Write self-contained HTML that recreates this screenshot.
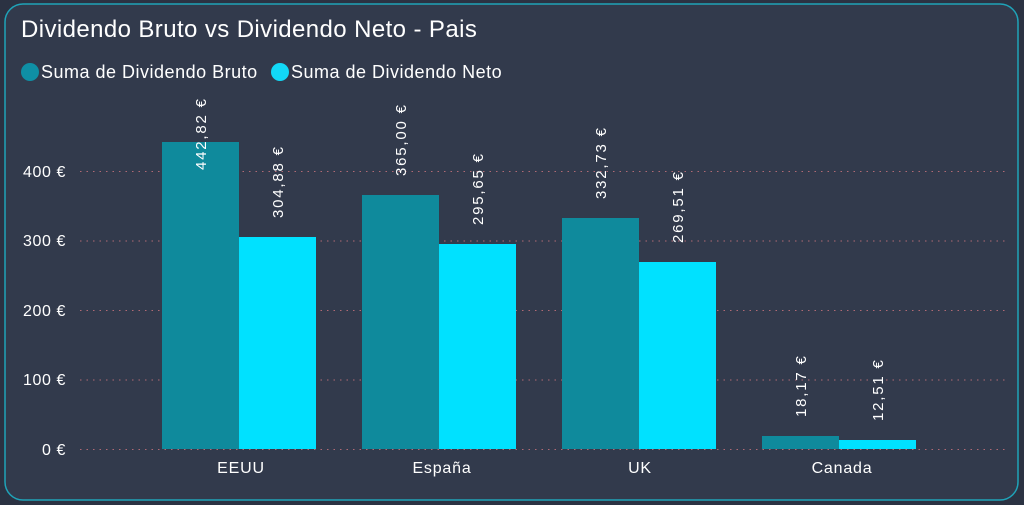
<!DOCTYPE html>
<html><head><meta charset="utf-8"><style>
html,body{margin:0;padding:0;background:#323a4c;}
svg{display:block;font-family:"Liberation Sans",Arial,sans-serif;}
</style></head><body>
<svg width="1024" height="505" viewBox="0 0 1024 505">
<rect x="0" y="0" width="1024" height="505" fill="#2b3242"/>
<rect x="5" y="4" width="1013" height="496" rx="18" fill="#323a4c" stroke="#1fa3b8" stroke-width="1.5"/>
<text x="21" y="37" font-size="24" letter-spacing="0.4" fill="#fff">Dividendo Bruto vs Dividendo Neto - Pais</text>
<circle cx="30" cy="72" r="9" fill="#0f8fa5"/>
<text x="41" y="78" font-size="18" letter-spacing="0.5" fill="#fff">Suma de Dividendo Bruto</text>
<circle cx="280" cy="72" r="9" fill="#12d8f7"/>
<text x="291" y="78" font-size="18" letter-spacing="0.5" fill="#fff">Suma de Dividendo Neto</text>
<g stroke="#b06a75" stroke-width="1" stroke-dasharray="1.5 5">
<line x1="80" y1="171.5" x2="1005" y2="171.5"/>
<line x1="80" y1="241" x2="1005" y2="241"/>
<line x1="80" y1="310.5" x2="1005" y2="310.5"/>
<line x1="80" y1="380" x2="1005" y2="380"/>
<line x1="80" y1="449.5" x2="1005" y2="449.5"/>
</g>
<g font-size="16" letter-spacing="0.6" fill="#fff" text-anchor="end">
<text x="66" y="177">400 €</text>
<text x="66" y="246">300 €</text>
<text x="66" y="316">200 €</text>
<text x="66" y="385">100 €</text>
<text x="66" y="455">0 €</text>
</g>
<g fill="#0f8a9c">
<rect x="162" y="142" width="77" height="307"/>
<rect x="362" y="195" width="77" height="254"/>
<rect x="562" y="218" width="77" height="231"/>
<rect x="762" y="436" width="77" height="13"/>
</g>
<g fill="#00e1ff">
<rect x="239" y="237" width="77" height="212"/>
<rect x="439" y="244" width="77" height="205"/>
<rect x="639" y="262" width="77" height="187"/>
<rect x="839" y="440" width="77" height="9"/>
</g>
<g font-size="15" letter-spacing="1.8" fill="#fff">
<text transform="translate(206,170) rotate(-90)">442,82 €</text>
<text transform="translate(283,218) rotate(-90)">304,88 €</text>
<text transform="translate(406,176) rotate(-90)">365,00 €</text>
<text transform="translate(483,225) rotate(-90)">295,65 €</text>
<text transform="translate(606,199) rotate(-90)">332,73 €</text>
<text transform="translate(683,243) rotate(-90)">269,51 €</text>
<text transform="translate(806,417) rotate(-90)">18,17 €</text>
<text transform="translate(883,421) rotate(-90)">12,51 €</text>
</g>
<g font-size="16" letter-spacing="0.8" fill="#fff" text-anchor="middle">
<text x="241" y="473">EEUU</text>
<text x="442" y="473">España</text>
<text x="640" y="473">UK</text>
<text x="842" y="473">Canada</text>
</g>
</svg>
</body></html>
